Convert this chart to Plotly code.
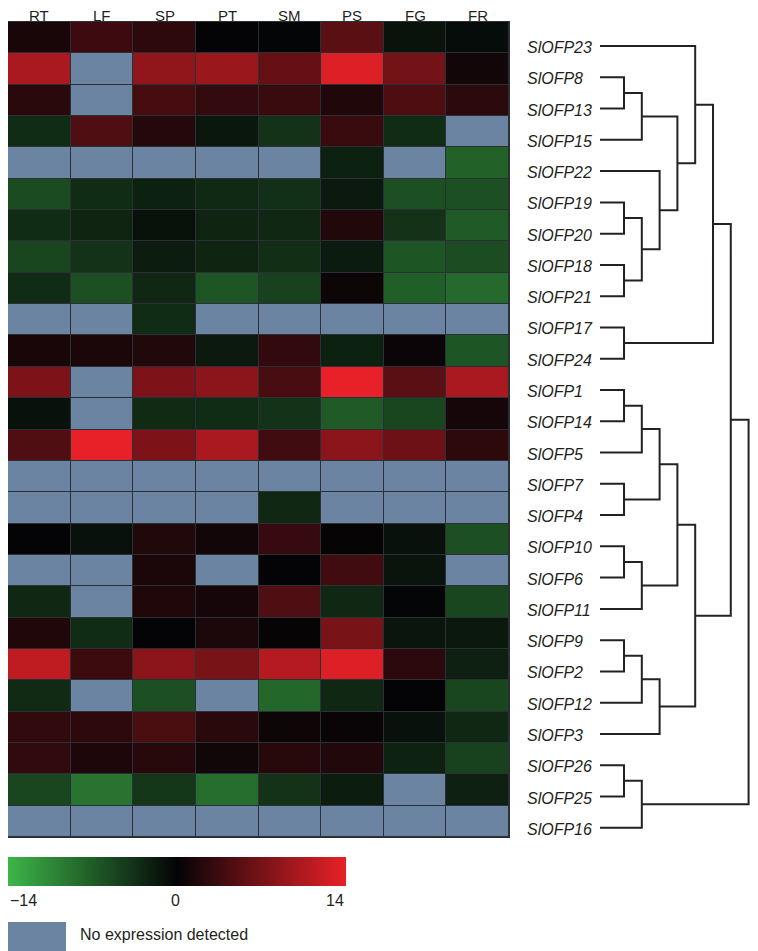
import plotly.graph_objects as go
import numpy as np

# tissues (columns) and genes (rows, top to bottom, in dendrogram order)
tissues = ['RT', 'LF', 'SP', 'PT', 'SM', 'PS', 'FG', 'FR']
genes = ['SlOFP23', 'SlOFP8', 'SlOFP13', 'SlOFP15', 'SlOFP22', 'SlOFP19',
         'SlOFP20', 'SlOFP18', 'SlOFP21', 'SlOFP17', 'SlOFP24', 'SlOFP1',
         'SlOFP14', 'SlOFP5', 'SlOFP7', 'SlOFP4', 'SlOFP10', 'SlOFP6',
         'SlOFP11', 'SlOFP9', 'SlOFP2', 'SlOFP12', 'SlOFP3', 'SlOFP26',
         'SlOFP25', 'SlOFP16']

N = None  # no expression detected
expression = [
    [1.2, 3.5, 2.5, 0.0, -0.1, 5.3, -1.2, -0.6],
    [10.2, N, 8.6, 9.2, 6.0, 13.3, 6.8, 0.9],
    [2.3, N, 4.1, 2.9, 3.3, 1.7, 4.5, 2.4],
    [-3.2, 4.6, 2.0, -1.5, -3.6, 3.3, -3.2, N],
    [N, N, N, N, N, -2.3, N, -7.4],
    [-5.6, -3.2, -2.3, -2.9, -3.5, -1.7, -6.0, -6.0],
    [-3.2, -2.6, -1.1, -2.6, -2.8, 1.8, -3.6, -6.8],
    [-5.2, -3.6, -2.0, -2.6, -3.4, -1.8, -6.4, -5.8],
    [-3.2, -6.0, -2.8, -6.4, -4.8, 0.6, -7.2, -8.0],
    [N, N, -3.2, N, N, N, N, N],
    [1.2, 1.4, 1.8, -1.7, 2.8, -2.3, 0.5, -6.4],
    [7.4, N, 7.4, 8.3, 4.2, 14.0, 5.2, 10.2],
    [-1.0, N, -3.0, -3.2, -3.6, -6.8, -5.2, 1.1],
    [4.6, 14.0, 7.4, 10.2, 3.7, 8.3, 6.5, 2.5],
    [N, N, N, N, N, N, N, N],
    [N, N, N, N, -2.8, N, N, N],
    [0.0, -1.0, 1.8, 0.9, 3.1, 0.2, -1.0, -6.0],
    [N, N, 1.4, N, 0.0, 3.7, -1.3, N],
    [-2.8, N, 1.7, 1.1, 4.6, -2.8, -0.1, -5.2],
    [1.7, -3.2, 0.0, 1.5, 0.2, 7.1, -1.4, -1.6],
    [11.5, 3.4, 8.3, 7.1, 10.8, 13.3, 2.4, -2.2],
    [-3.0, N, -6.0, N, -7.8, -2.8, 0.0, -5.2],
    [2.7, 2.5, 4.3, 2.3, 0.6, 0.3, -1.0, -2.8],
    [2.7, 1.6, 2.2, 0.8, 2.2, 1.8, -2.4, -4.8],
    [-5.2, -8.8, -4.0, -8.4, -3.6, -2.0, N, -2.2],
    [N, N, N, N, N, N, N, N],
]

# dendrogram merges: (child a, child b, level); leaves are 0..25, new nodes from 26
merges = [
    (1, 2, 1), (26, 3, 2), (5, 6, 1), (7, 8, 1), (28, 29, 2), (4, 30, 3),
    (27, 31, 4), (0, 32, 5), (9, 10, 1), (33, 34, 6), (11, 12, 1),
    (36, 13, 2), (14, 15, 1), (37, 38, 3), (16, 17, 1), (40, 18, 2),
    (39, 41, 4), (19, 20, 1), (43, 21, 2), (44, 22, 3), (42, 45, 5),
    (35, 46, 7), (23, 24, 1), (48, 25, 2), (47, 49, 8),
]

cbar_ticks = ['\u221214', '0', '14']

# the page body has an 8px margin, so the figure is sized to the visible window
OFF = 8
FW, FH = 758 - 2 * OFF, 951 - OFF


def px(x):
    return max(0.0, (x - OFF) / FW)


def py(y):
    return 1 - (y - OFF) / FH


NA_COLOR = '#6a84a2'
GRID_COLOR = '#2b2f36'
LINE_COLOR = '#222222'
TEXT_COLOR = '#231f20'
FONT = 'Liberation Sans, Arial, sans-serif'
LEAF_X = -0.35

z = np.array([[np.nan if v is None else v for v in row] for row in expression], dtype=float)
na_mask = np.where(np.isnan(z), 1.0, np.nan)
rows = list(range(len(genes)))

colorscale = [[0.0, 'rgb(61,181,73)'], [0.5, 'rgb(4,4,6)'], [1.0, 'rgb(232,33,40)']]

fig = go.Figure()

fig.add_trace(go.Heatmap(
    z=z, x=tissues, y=rows, zmin=-14, zmax=14, colorscale=colorscale,
    xgap=1, ygap=1, hoverongaps=False,
    colorbar=dict(
        orientation='h', thickness=29, thicknessmode='pixels',
        len=338, lenmode='pixels', x=px(8), xanchor='left',
        y=py(886), yanchor='bottom', xpad=0, ypad=0,
        showticklabels=False, ticks='', outlinewidth=0,
    ),
))
fig.add_trace(go.Heatmap(
    z=na_mask, x=tissues, y=rows, zmin=0, zmax=1,
    colorscale=[[0, NA_COLOR], [1, NA_COLOR]], showscale=False,
    xgap=1, ygap=1, hoverongaps=False,
))

# dendrogram
node_y = {i: float(i) for i in rows}
node_x = {i: LEAF_X for i in rows}
dx, dy = [], []
for k, (a, b, lvl) in enumerate(merges):
    nid = len(genes) + k
    dx += [node_x[a], lvl, lvl, node_x[b], None]
    dy += [node_y[a], node_y[a], node_y[b], node_y[b], None]
    node_x[nid] = lvl
    node_y[nid] = (node_y[a] + node_y[b]) / 2

fig.add_trace(go.Scatter(
    x=dx, y=dy, mode='lines', xaxis='x2', yaxis='y2',
    line=dict(color=LINE_COLOR, width=2), hoverinfo='skip',
))

fig.update_layout(
    width=FW, height=FH,
    margin=dict(l=0, r=0, t=0, b=0, autoexpand=False),
    paper_bgcolor='white', plot_bgcolor='white',
    showlegend=False,
    font=dict(family=FONT, size=16, color=TEXT_COLOR),
    xaxis=dict(domain=[px(8), px(509)], showticklabels=False, ticks='',
               showgrid=False, zeroline=False, showline=True, mirror=True,
               linecolor=GRID_COLOR, linewidth=1),
    yaxis=dict(domain=[py(837), py(22)], range=[25.5, -0.5],
               showticklabels=False, ticks='', showgrid=False, zeroline=False,
               showline=True, mirror=True, linecolor=GRID_COLOR, linewidth=1),
    xaxis2=dict(domain=[px(600), 1], range=[LEAF_X, 8.08], visible=False,
                anchor='y2'),
    yaxis2=dict(domain=[py(843.4), py(30.4)], range=[25.5, -0.5],
                visible=False, anchor='x2'),
)

# dark backing so the cell gaps read as thin grid lines
fig.add_shape(type='rect', xref='x domain', yref='y domain', x0=0, x1=1, y0=0, y1=1,
              fillcolor=GRID_COLOR, line=dict(width=0), layer='below')

# tissue headers above the columns
for t in tissues:
    fig.add_annotation(x=t, xref='x', y=py(15.5), yref='paper', text=t,
                       showarrow=False, xanchor='center', yanchor='middle',
                       font=dict(size=15, color=TEXT_COLOR))

# gene labels beside the dendrogram leaves
for i, g in enumerate(genes):
    fig.add_annotation(
        x=px(525), xref='paper', y=i, yref='y2', yshift=-1.5,
        text='<i>%s</i>' % g, showarrow=False, xanchor='left', yanchor='middle',
        font=dict(size=16, color=TEXT_COLOR),
    )

# colour bar tick labels
for txt, xpos, anc in zip(cbar_ticks, [px(8), px(175.3), px(346)], ['left', 'center', 'right']):
    fig.add_annotation(x=xpos, xref='paper', y=py(900.7), yref='paper', text=txt,
                       showarrow=False, xanchor=anc, yanchor='middle',
                       font=dict(size=16, color=TEXT_COLOR))

# "no expression" key
fig.add_shape(type='rect', xref='paper', yref='paper',
              x0=px(8), x1=px(66), y0=0, y1=py(922),
              fillcolor=NA_COLOR, line=dict(width=0))
fig.add_annotation(x=px(78), xref='paper', y=py(934.7), yref='paper',
                   text='No expression detected', showarrow=False,
                   xanchor='left', yanchor='middle',
                   font=dict(size=16, color=TEXT_COLOR))

fig.write_html("out.html")
